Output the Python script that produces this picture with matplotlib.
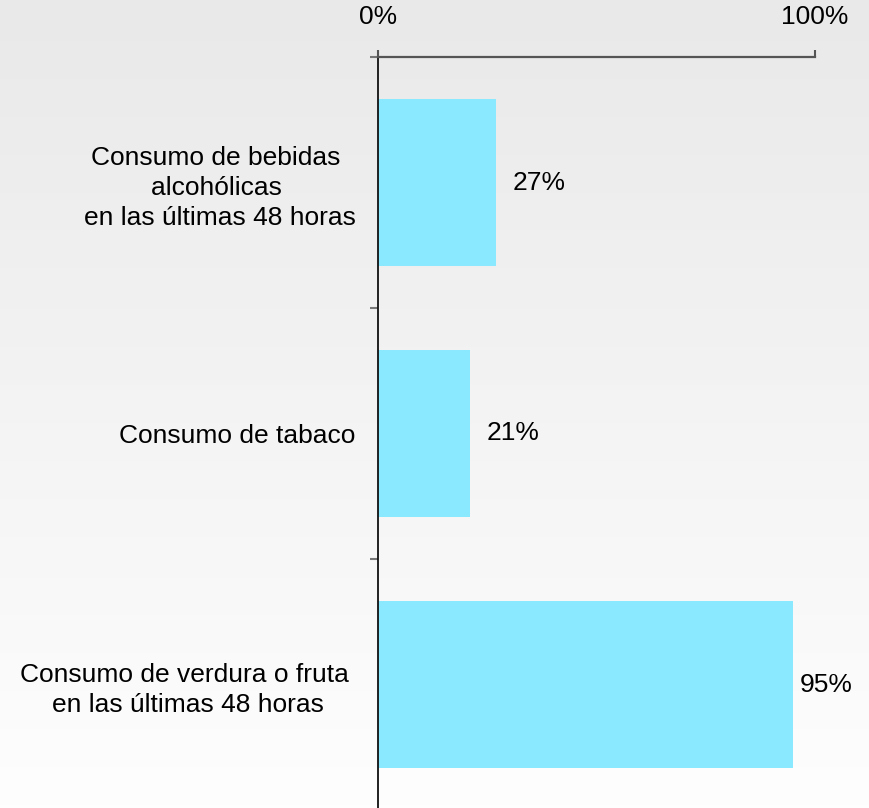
import numpy as np
import matplotlib
matplotlib.use("Agg")
import matplotlib.pyplot as plt

categories = ["Consumo de bebidas \nalcohólicas \nen las últimas 48 horas",
              "Consumo de tabaco",
              "Consumo de verdura o fruta \nen las últimas 48 horas"]
values = [27, 21, 95]
xticks = [0, 100]
xticklabels = ["0%", "100%"]

plt.rcParams['font.family'] = ['Liberation Sans', 'DejaVu Sans']
FS = 19

fig = plt.figure(figsize=(8.70, 8.08), dpi=100)

# background gradient
bg = fig.add_axes([0, 0, 1, 1], zorder=-10)
grad = np.linspace(233, 254, 256).reshape(-1, 1) / 255.0
bg.imshow(np.dstack([grad, grad, grad]), aspect='auto', extent=[0, 1, 0, 1], origin='upper')
bg.set_axis_off()

ax = fig.add_axes([378/870, 1 - 810/808, 437/870, 753/808])
ax.patch.set_alpha(0)
y = np.arange(len(categories))
ax.barh(y, values, height=0.665, color='#8AE9FF', zorder=2)
ax.set_xlim(0, 100)
ax.set_ylim(2.5, -0.5)

ax.xaxis.tick_top()
ax.set_xticks(xticks)
ax.set_xticklabels(xticklabels, fontsize=FS)
ax.tick_params(axis='x', direction='out', length=5, width=1.5, color='#555555', pad=15)

ax.set_yticks(y)
ax.set_yticklabels(categories, fontsize=FS, multialignment='center', linespacing=1.33)
ax.tick_params(axis='y', which='major', length=0, pad=16)
ax.set_yticks([-0.5, 0.5, 1.5, 2.5], minor=True)
ax.tick_params(axis='y', which='minor', length=6, width=1.5, color='#777777')

for s in ['right', 'bottom']:
    ax.spines[s].set_visible(False)
ax.spines['top'].set_color('#555555')
ax.spines['top'].set_linewidth(1.6)
ax.spines['left'].set_color('#111111')
ax.spines['left'].set_linewidth(1.3)

offsets = [12, 12, 5]
for yi, v, off in zip(y, values, offsets):
    ax.annotate(f"{v}%", (v, yi), xytext=(off, 0), textcoords='offset points',
                va='center', ha='left', fontsize=FS)

fig.savefig("out.png", dpi=100)
